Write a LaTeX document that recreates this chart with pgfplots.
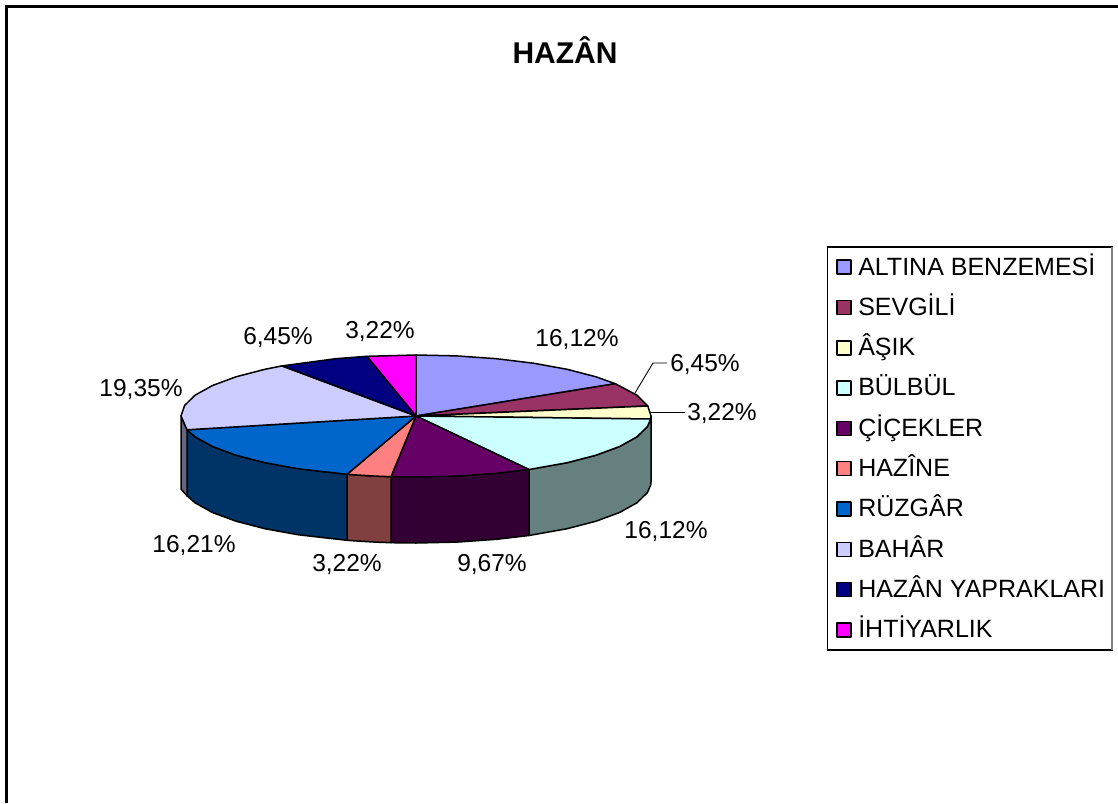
\documentclass[border=0pt]{standalone}
\usepackage{fontspec}
\setmainfont{Liberation Sans}
\usepackage{pgfplots}
\pgfplotsset{compat=1.18}

% side colours are the darker shades of the top faces
\definecolor{cAltin}{HTML}{9999FF}
\definecolor{cSevgili}{HTML}{993366}
\definecolor{cAsik}{HTML}{FFFFCC}
\definecolor{cBulbul}{HTML}{CCFFFF}
\definecolor{cCicek}{HTML}{660066}
\definecolor{cHazine}{HTML}{FF8080}
\definecolor{cRuzgar}{HTML}{0066CC}
\definecolor{cBahar}{HTML}{CCCCFF}
\definecolor{cYaprak}{HTML}{000080}
\definecolor{cIhtiyar}{HTML}{FF00FF}
\definecolor{sBulbul}{HTML}{668080}
\definecolor{sCicek}{HTML}{330033}
\definecolor{sHazine}{HTML}{804040}
\definecolor{sRuzgar}{HTML}{003366}
\definecolor{sBahar}{HTML}{666680}

\newcommand{\lf}{\fontsize{24.5}{28}\selectfont}

\begin{document}
\begin{tikzpicture}
\useasboundingbox (0,0) rectangle (1118pt,803pt);
\begin{axis}[
    at={(0,0)}, anchor=south west,
    scale only axis, width=1118pt, height=803pt,
    xmin=0, xmax=1118, ymin=0, ymax=803, y dir=reverse,
    hide axis, clip=false,
    slice/.style={draw=black, line width=1.5pt, line join=round},
    legend image code/.code={\draw[#1] (0pt,-7pt) rectangle (14pt,7pt); \path[draw=none,fill=none] (0pt,0pt) -- (21.5pt,0pt);},
    legend cell align=left,
    legend style={
      at={(axis cs:836,247)}, anchor=north west,
      draw=none, fill=none, inner sep=0pt, outer sep=0pt,
      row sep=0pt,
      nodes={inner sep=0pt, outer sep=0pt, text height=28pt, text depth=12.3pt,
             font=\fontsize{25}{28}\selectfont},
    },
  ]
  % frame
  \addplot[black, line width=2.2pt, forget plot] coordinates {(6.5,803) (6.5,6.5) (1118,6.5)};

  % side faces
  \addplot[slice, fill=sBulbul, forget plot] coordinates {
    (651,416) (650.7,419) (647.4,426.6) (636.8,436.9) (619.5,446.5) (596,455.2) (567.1,462.7) (529,469.5)
    (529,535.5) (567.1,528.7) (596,521.2) (619.5,512.5) (636.8,502.9) (647.4,492.6) (650.7,485) (651,482)
  } --cycle;
  \addplot[slice, fill=sCicek, forget plot] coordinates {
    (529,469.5) (496.4,473.3) (456.8,476.1) (416,477) (391,476.7)
    (391,542.7) (416,543) (456.8,542.1) (496.4,539.3) (529,535.5)
  } --cycle;
  \addplot[slice, fill=sHazine, forget plot] coordinates {
    (391,476.7) (375.2,476.1) (355.2,474.9) (347,474.3)
    (347,540.3) (355.2,540.9) (375.2,542.1) (391,542.7)
  } --cycle;
  \addplot[slice, fill=sRuzgar, forget plot] coordinates {
    (347,474.3) (298.5,468.8) (264.9,462.7) (236,455.2) (212.5,446.5) (195.2,436.9) (187,429.8)
    (187,495.8) (195.2,502.9) (212.5,512.5) (236,521.2) (264.9,528.7) (298.5,534.8) (347,540.3)
  } --cycle;
  \addplot[slice, fill=sBahar, forget plot] coordinates {
    (187,429.8) (181,416) (181,489) (187,495.8)
  } --cycle;

  % top faces
  \addplot[slice, fill=cAltin] coordinates {
    (416,416) (416,355) (456.8,355.9) (496.4,358.7) (533.5,363.2) (567.1,369.3) (596,376.8) (615.3,383.7)
  } --cycle;
  \addlegendentry{ALTINA BENZEMESİ}
  \addplot[slice, fill=cSevgili] coordinates {
    (416,416) (615.3,383.7) (636.8,395.1) (647.8,406)
  } --cycle;
  \addlegendentry{SEVGİLİ}
  \addplot[slice, fill=cAsik] coordinates {
    (416,416) (647.8,406) (651,416) (650.7,419)
  } --cycle;
  \addlegendentry{ÂŞIK}
  \addplot[slice, fill=cBulbul] coordinates {
    (416,416) (650.7,419) (647.4,426.6) (636.8,436.9) (619.5,446.5) (596,455.2) (567.1,462.7) (529,469.5)
  } --cycle;
  \addlegendentry{BÜLBÜL}
  \addplot[slice, fill=cCicek] coordinates {
    (416,416) (529,469.5) (496.4,473.3) (456.8,476.1) (416,477) (391,476.7)
  } --cycle;
  \addlegendentry{ÇİÇEKLER}
  \addplot[slice, fill=cHazine] coordinates {
    (416,416) (391,476.7) (375.2,476.1) (355.2,474.9) (347,474.3)
  } --cycle;
  \addlegendentry{HAZÎNE}
  \addplot[slice, fill=cRuzgar] coordinates {
    (416,416) (347,474.3) (298.5,468.8) (264.9,462.7) (236,455.2) (212.5,446.5) (195.2,436.9) (187,429.8)
  } --cycle;
  \addlegendentry{RÜZGÂR}
  \addplot[slice, fill=cBahar] coordinates {
    (416,416) (187,429.8) (181,416) (184.6,405.4) (195.2,395.1) (212.5,385.5) (236,376.8) (264.9,369.3) (282,365.9)
  } --cycle;
  \addlegendentry{BAHÂR}
  \addplot[slice, fill=cYaprak] coordinates {
    (416,416) (282,365.9) (335.6,358.7) (367,356.3)
  } --cycle;
  \addlegendentry{HAZÂN YAPRAKLARI}
  \addplot[slice, fill=cIhtiyar] coordinates {
    (416,416) (367,356.3) (416,355)
  } --cycle;
  \addlegendentry{İHTİYARLIK}

  % leader lines
  \addplot[black, line width=0.9pt, forget plot] coordinates {(635,393) (653,363) (667,363)};
  \addplot[black, line width=0.9pt, forget plot] coordinates {(650,412) (685,412)};

  % legend box
  \draw[black, line width=1.2pt] (axis cs:827.5,247) rectangle (axis cs:1112,650);
  \draw[gray, line width=1.6pt] (axis cs:1112,247) -- (axis cs:1112,650);

  % title and data labels
  \node[anchor=base, font=\fontsize{30}{32}\selectfont\bfseries] at (axis cs:565,63) {HAZÂN};
  \node[font=\lf] at (axis cs:577,339.5) {16,12\%};
  \node[font=\lf] at (axis cs:705,364.5) {6,45\%};
  \node[font=\lf] at (axis cs:722,413.5) {3,22\%};
  \node[font=\lf] at (axis cs:666,531.5) {16,12\%};
  \node[font=\lf] at (axis cs:492,565) {9,67\%};
  \node[font=\lf] at (axis cs:347,564.5) {3,22\%};
  \node[font=\lf] at (axis cs:194,545.5) {16,21\%};
  \node[font=\lf] at (axis cs:141,389.5) {19,35\%};
  \node[font=\lf] at (axis cs:278,337.5) {6,45\%};
  \node[font=\lf] at (axis cs:380,331.5) {3,22\%};
\end{axis}
\end{tikzpicture}
\end{document}
